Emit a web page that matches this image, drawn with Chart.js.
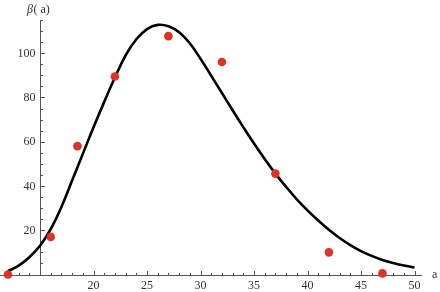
<!DOCTYPE html>
<html>
<head>
<meta charset="utf-8">
<script src="https://cdn.jsdelivr.net/npm/chart.js@4/dist/chart.umd.min.js"></script>
<style>
  html, body { margin: 0; padding: 0; background: #fff; }
  #wrap { width: 440px; height: 292px; position: relative; }
</style>
</head>
<body>
<div id="wrap"><canvas id="myChart"></canvas></div>
<script>
'use strict';

// measured points (red dots)
const sampleA = [12, 16, 18.5, 22, 27, 32, 37, 42, 47];
const sampleBeta = [0, 17, 58, 89.5, 107.7, 96, 45.6, 10, 0.5];

// fitted curve at every unit of a
const curveA = [12, 13, 14, 15, 16, 17, 18, 19, 20, 21, 22, 23, 24, 25, 26, 27, 28, 29, 30, 31,
  32, 33, 34, 35, 36, 37, 38, 39, 40, 41, 42, 43, 44, 45, 46, 47, 48, 49, 50];
const curveBeta = [1.5, 4, 7.8, 13, 20.5, 30.5, 42.5, 54.5, 66.5, 78, 89, 99, 106.3, 110.9, 112.8, 112.2, 109.5, 104.5, 97.5, 89.8,
  82, 74.2, 66.6, 59.2, 52.2, 45.6, 39.6, 34, 29, 24.4, 20.2, 16.5, 13.3, 10.6, 8.4, 6.6, 5.2, 4.1, 3.2];

const xTickLabels = [20, 25, 30, 35, 40, 45, 50];
const yTickLabels = [20, 40, 60, 80, 100];

const axisCross = {x: 15, y: 0};
const serif = '"Liberation Serif", "DejaVu Serif", serif';

function toXY(xs, ys) {
  return xs.map(function(v, i) {
    return {x: v, y: ys[i]};
  });
}

// mathematica-like axes crossing at (15, 0), ticks pointing inward
const mathAxes = {
  id: 'mathAxes',
  beforeDatasetsDraw(chart) {
    const ctx = chart.ctx;
    const x = chart.scales.x;
    const y = chart.scales.y;
    const x0 = Math.round(x.getPixelForValue(axisCross.x)) + 0.5;
    const y0 = Math.round(y.getPixelForValue(axisCross.y)) + 0.5;

    ctx.save();
    ctx.strokeStyle = '#555';
    ctx.lineWidth = 1;
    ctx.beginPath();
    ctx.moveTo(0, y0);
    ctx.lineTo(x.right, y0);
    ctx.moveTo(x0, y0);
    ctx.lineTo(x0, y.top);

    for (let a = 12; a <= 50; a++) {
      const px = Math.round(x.getPixelForValue(a)) + 0.5;
      const len = a % 5 === 0 ? 4.5 : 2.5;
      ctx.moveTo(px, y0);
      ctx.lineTo(px, y0 - len);
    }
    for (let b = 5; b <= 115; b += 5) {
      const py = Math.round(y.getPixelForValue(b)) + 0.5;
      const len = b % 20 === 0 ? 4.5 : 2.5;
      ctx.moveTo(x0, py);
      ctx.lineTo(x0 + len, py);
    }
    ctx.stroke();

    ctx.fillStyle = '#333';
    ctx.font = '12px ' + serif;
    ctx.textBaseline = 'middle';
    ctx.textAlign = 'center';
    for (let t of xTickLabels) {
      ctx.fillText(String(t), x.getPixelForValue(t), y0 + 10.5);
    }
    ctx.textAlign = 'right';
    for (let t of yTickLabels) {
      ctx.fillText(String(t), x0 - 5, y.getPixelForValue(t) + 0.5);
    }

    // axis labels
    ctx.textAlign = 'left';
    ctx.font = 'italic 12px ' + serif;
    ctx.fillText('\u03B2', 27, 10);
    const bw = ctx.measureText('\u03B2').width;
    ctx.font = '12px ' + serif;
    ctx.fillText('( a)', 27 + bw + 0.5, 10);
    ctx.fillText('a', x.right + 10, y0 - 1);
    ctx.restore();
  }
};

const ctx = document.getElementById('myChart').getContext('2d');
new Chart(ctx, {
  type: 'scatter',
  data: {
    datasets: [{
      label: 'data',
      data: toXY(sampleA, sampleBeta),
      backgroundColor: 'rgb(222, 50, 38)',
      borderWidth: 0,
      pointRadius: 4.3,
      order: 0,
      clip: false,
    },
    {
      label: 'fit',
      data: toXY(curveA, curveBeta),
      showLine: true,
      borderColor: '#000',
      borderWidth: 2.6,
      pointRadius: 0,
      tension: 0.4,
      order: 1,
      clip: false,
    }]
  },
  options: {
    responsive: true,
    maintainAspectRatio: false,
    animation: false,
    layout: {
      autoPadding: false,
      padding: {left: 0, right: 18, top: 20, bottom: 17.5}
    },
    scales: {
      x: {type: 'linear', min: 11.26, max: 50.7, display: false},
      y: {type: 'linear', min: 0, max: 115, display: false}
    },
    plugins: {
      legend: {display: false},
      tooltip: {enabled: false}
    }
  },
  plugins: [mathAxes]
});
</script>
</body>
</html>
